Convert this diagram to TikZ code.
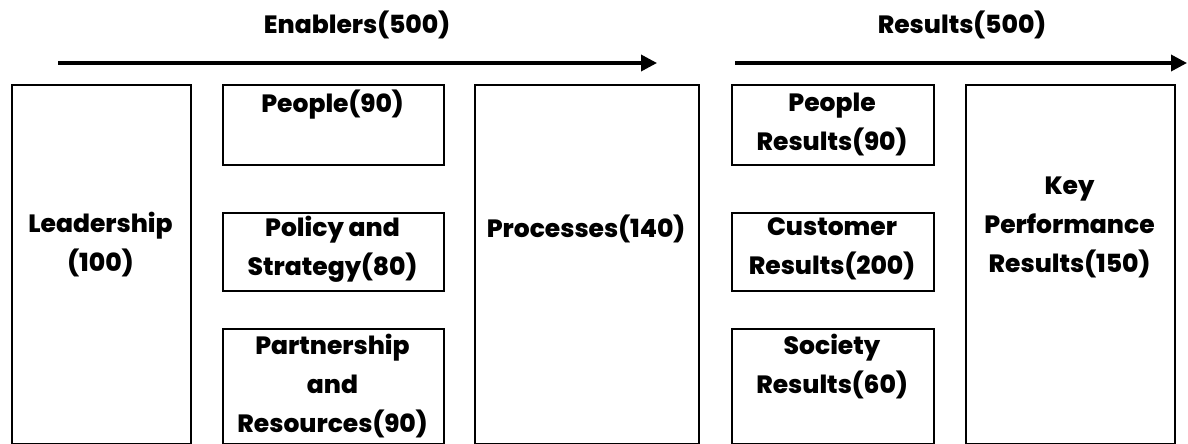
\documentclass[tikz,border=0pt]{standalone}
\usepackage{fontspec}
\setmainfont{Poppins}[BoldFont={Poppins ExtraBold}]
\usetikzlibrary{arrows.meta,positioning}

\tikzset{
  crit/.style={draw, line width=2pt, anchor=north west, inner sep=0pt},
  lbl/.style={font=\bfseries\fontsize{25}{39}\selectfont, align=center, inner sep=0pt},
  flow/.style={line width=3.5pt, -{Triangle[length=16pt,width=16pt]}}
}

\begin{document}
\begin{tikzpicture}[x=1pt,y=-1pt]
\useasboundingbox (0,0) rectangle (1188,444);
% headers and arrows
\node[lbl] (enab) at (357,25) {Enablers(500)};
\node[lbl] (res) at (962,25) {Results(500)};
\coordinate (e0) at (58,63);
\coordinate (e1) at (657,63);
\coordinate (r0) at (735,63);
\coordinate (r1) at (1187,63);
\draw[flow] (e0) -- (e1);
\draw[flow] (r0) -- (r1);
% enablers
\node[crit, minimum width=179pt, minimum height=359pt] (lead) at (11,84) {};
\node[crit, minimum width=221pt, minimum height=80pt] (peop) at (222,84) {};
\node[crit, minimum width=221pt, minimum height=78pt] (poli) at (222,212) {};
\node[crit, minimum width=221pt, minimum height=115pt] (part) at (222,328) {};
\node[crit, minimum width=224pt, minimum height=359pt] (proc) at (474,84) {};
% results
\node[crit, minimum width=202pt, minimum height=80pt] (peopres) at (731,84) {};
\node[crit, minimum width=202pt, minimum height=78pt] (cust) at (731,212) {};
\node[crit, minimum width=202pt, minimum height=115pt] (soc) at (731,328) {};
\node[crit, minimum width=209pt, minimum height=359pt] (key) at (965,84) {};
% texts
\node[lbl] (leadtxt) at (100.5,245) {Leadership\\(100)};
\node[lbl] (peoptxt) at (332.5,105) {People(90)};
\node[lbl] (politxt) at (332.5,249) {Policy and\\Strategy(80)};
\node[lbl] (parttxt) at (332.5,386) {Partnership\\and\\Resources(90)};
\node[lbl] (proctxt) at (586,229) {Processes(140)};
\node[lbl] (peoprestxt) at (832,124) {People\\Results(90)};
\node[lbl] (custtxt) at (832,249) {Customer\\Results(200)};
\node[lbl] (soctxt) at (832,367) {Society\\Results(60)};
\node[lbl] (keytxt) at (1069.5,227) {Key\\Performance\\Results(150)};
\end{tikzpicture}
\end{document}
